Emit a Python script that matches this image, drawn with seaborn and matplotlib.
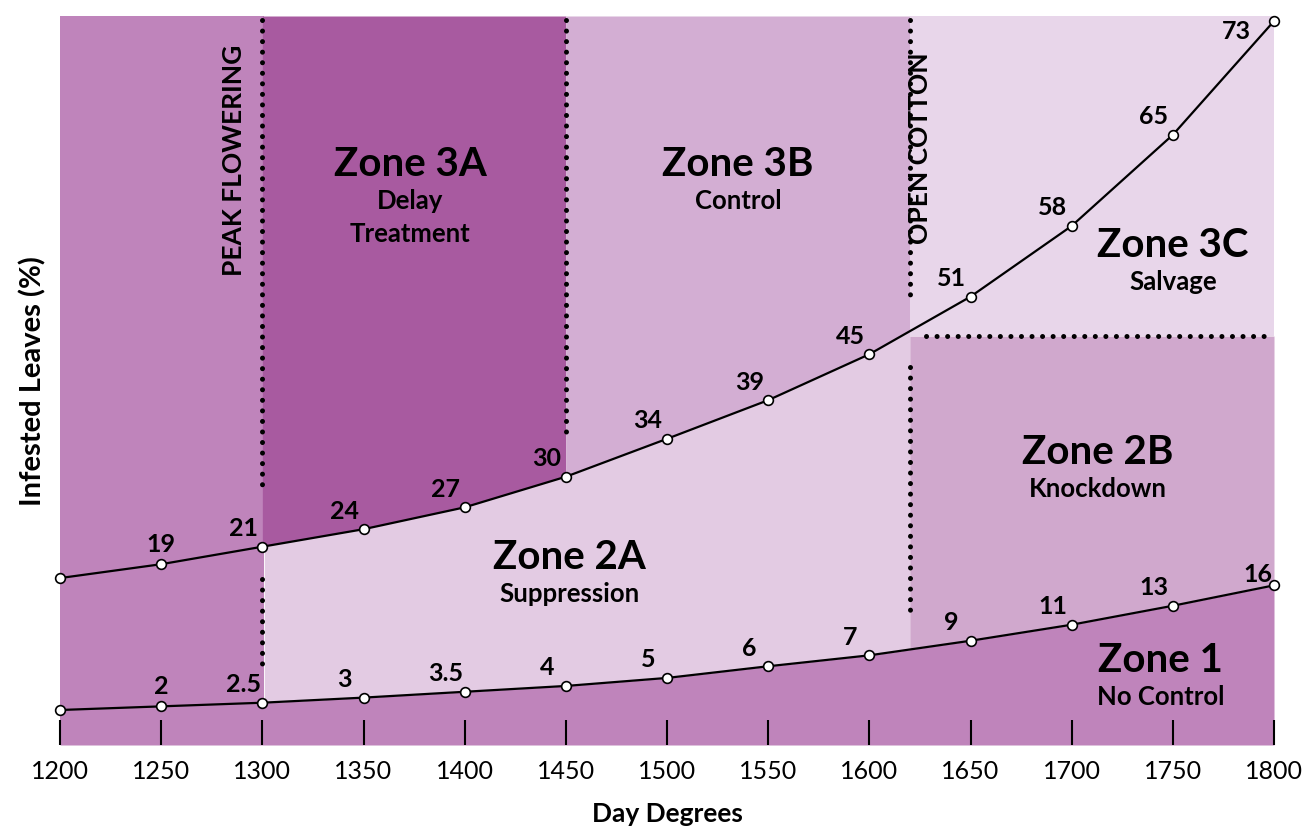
import numpy as np
import seaborn as sns
import matplotlib.pyplot as plt

# x positions (day degrees) shared by both curves
day_degrees = [1200, 1250, 1300, 1350, 1400, 1450, 1500, 1550, 1600, 1650, 1700, 1750, 1800]

# upper threshold curve: printed value and vertical level on the (unscaled) y axis
upper_labels = ['', '19', '21', '24', '27', '30', '34', '39', '45', '51', '58', '65', '73']
upper_level = [22.9, 24.8, 27.2, 29.6, 32.6, 36.8, 42.0, 47.3, 53.6, 61.5, 71.2, 83.7, 99.3]

# lower threshold curve
lower_labels = ['', '2', '2.5', '3', '3.5', '4', '5', '6', '7', '9', '11', '13', '16']
lower_level = [4.8, 5.3, 5.8, 6.5, 7.3, 8.1, 9.2, 10.8, 12.3, 14.3, 16.5, 19.1, 21.9]

# zone boundaries
peak_flowering = 1300
delay_limit = 1450
open_cotton = 1620
salvage_level = 56.1

zone_colors = {
    '1': '#bf84bb',
    '2A': '#e3cbe3',
    '2B': '#d0a8cd',
    '3A': '#a85aa0',
    '3B': '#d3aed3',
    '3C': '#e8d6ea',
}

sns.set_theme(style='white')
plt.rcParams['font.family'] = ['Lato', 'DejaVu Sans']
plt.rcParams['text.color'] = 'black'
plt.rcParams['axes.labelcolor'] = 'black'
plt.rcParams['xtick.color'] = 'black'
plt.rcParams['axes.axisbelow'] = False

fig = plt.figure(figsize=(13.06, 8.29), dpi=100)
ax = fig.add_axes([60 / 1306, 1 - 746 / 829, 1214 / 1306, 729 / 829])
ax.set_axisbelow(False)

xs = np.arange(1200, 1801, 1.0)
up = np.interp(xs, day_degrees, upper_level)
lo = np.interp(xs, day_degrees, lower_level)
top = 100

fill_kw = dict(lw=0, antialiased=False)
ax.fill_between(xs, 0, lo, color=zone_colors['1'], **fill_kw)
ax.fill_between(xs, 0, top, where=xs <= peak_flowering + 1, color=zone_colors['1'], **fill_kw)
ax.fill_between(xs, up, top, where=(xs >= peak_flowering) & (xs <= delay_limit),
                color=zone_colors['3A'], **fill_kw)
ax.fill_between(xs, up, top, where=(xs >= delay_limit) & (xs <= open_cotton),
                color=zone_colors['3B'], **fill_kw)
ax.fill_between(xs, lo, up, where=(xs >= peak_flowering + 1) & (xs <= open_cotton),
                color=zone_colors['2A'], **fill_kw)
ax.fill_between(xs, salvage_level, top, where=xs >= open_cotton,
                color=zone_colors['3C'], **fill_kw)
ax.fill_between(xs, lo, salvage_level, where=xs >= open_cotton,
                color=zone_colors['2B'], **fill_kw)

# dotted guide lines
dot_kw = dict(color='black', lw=3.6, linestyle=(0, (0.01, 2.1)),
              dash_capstyle='round', zorder=4)
ax.plot([peak_flowering] * 2, [top - 0.5, 34.8], **dot_kw)
ax.plot([peak_flowering] * 2, [22.8, 10.0], **dot_kw)
ax.plot([delay_limit] * 2, [top - 0.5, 42.0], **dot_kw)
ax.plot([open_cotton] * 2, [top - 0.5, 61.2], **dot_kw)
ax.plot([open_cotton] * 2, [51.9, 18.4], **dot_kw)
ax.plot([1628, 1800], [salvage_level] * 2, **dot_kw)

# curves
line_kw = dict(color='black', lw=1.6, marker='o', markersize=7,
               markerfacecolor='white', markeredgecolor='black',
               markeredgewidth=1.2, clip_on=False, zorder=5)
sns.lineplot(x=day_degrees, y=upper_level, ax=ax, **line_kw)
sns.lineplot(x=day_degrees, y=lower_level, ax=ax, **line_kw)


# point labels
def label_points(labels, levels, last_offset):
    for i, (xv, yv, txt) in enumerate(zip(day_degrees, levels, labels)):
        if not txt:
            continue
        if i == 1:
            off = (0, 21)
        elif i == len(labels) - 1:
            off = last_offset
        else:
            off = (-19, 19)
        ax.annotate(txt, (xv, yv), xytext=off, textcoords='offset pixels',
                    ha='center', va='center', fontsize=18, fontweight='bold',
                    zorder=6)


label_points(upper_labels, upper_level, (-38, -9))
label_points(lower_labels, lower_level, (-16, 12))

# zone titles
zones = [
    ('Zone 3A', ['Delay', 'Treatment'], 1373, 79.7),
    ('Zone 3B', ['Control'], 1535, 79.7),
    ('Zone 3C', ['Salvage'], 1750, 68.7),
    ('Zone 2A', ['Suppression'], 1452, 25.8),
    ('Zone 2B', ['Knockdown'], 1713, 40.2),
    ('Zone 1', ['No Control'], 1744, 11.7),
]
for title, subs, zx, zy in zones:
    ax.text(zx, zy, title, ha='center', va='center', fontsize=29, fontweight='bold')
    for k, s in enumerate(subs):
        ax.text(zx, zy - 5.0 - 4.4 * k, s, ha='center', va='center',
                fontsize=18.5, fontweight='bold')

ax.text(1286, 80.4, 'PEAK FLOWERING', rotation=90, ha='center', va='center',
        fontsize=19, fontweight='bold', zorder=3)
ax.text(1625, 82.0, 'OPEN COTTON', rotation=90, ha='center', va='center',
        fontsize=19, fontweight='bold', zorder=3)

ax.set_xlim(1200, 1800)
ax.set_ylim(0, top)
ax.set_xticks(day_degrees)
ax.set_xticklabels([str(d) for d in day_degrees], fontsize=18)
ax.set_yticks([])
ax.tick_params(axis='x', direction='in', length=18, width=1.5, color='black',
               pad=10, bottom=True)
for s in ax.spines.values():
    s.set_visible(False)

ax.set_xlabel('Day Degrees', fontsize=19, fontweight='bold', labelpad=14)
ax.set_ylabel('Infested Leaves (%)', fontsize=21, fontweight='bold', labelpad=10)

fig.savefig('out.png', dpi=100)
